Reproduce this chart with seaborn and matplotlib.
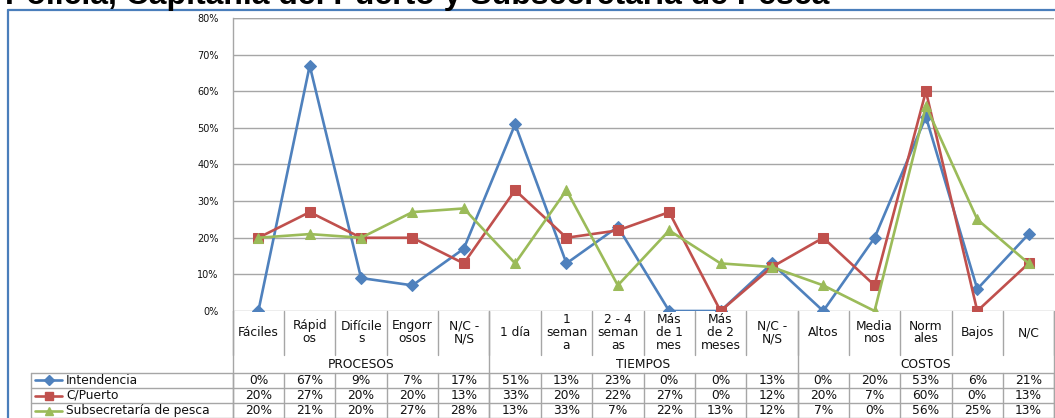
import matplotlib
matplotlib.use("Agg")
import matplotlib.pyplot as plt
import matplotlib.transforms as mtransforms
from matplotlib.lines import Line2D
import seaborn as sns
import pandas as pd

# ---- data -------------------------------------------------------------
categories = ["Fáciles", "Rápid\nos", "Difícile\ns", "Engorr\nosos", "N/C -\nN/S",
              "1 día", "1\nseman\na", "2 - 4\nseman\nas", "Más\nde 1\nmes", "Más\nde 2\nmeses",
              "N/C -\nN/S", "Altos", "Media\nnos", "Norm\nales", "Bajos", "N/C"]
groups = ["PROCESOS", "TIEMPOS", "COSTOS"]
group_sizes = [5, 6, 5]

series_names = ["Intendencia", "C/Puerto", "Subsecretaría de pesca"]
intendencia = [0, 67, 9, 7, 17, 51, 13, 23, 0, 0, 13, 0, 20, 53, 6, 21]
c_puerto = [20, 27, 20, 20, 13, 33, 20, 22, 27, 0, 12, 20, 7, 60, 0, 13]
subsecretaria = [20, 21, 20, 27, 28, 13, 33, 7, 22, 13, 12, 7, 0, 56, 25, 13]
y_ticks = [0, 10, 20, 30, 40, 50, 60, 70, 80]
title = "Policía, Capitanía del Puerto y Subsecretaría de Pesca"

colors = ["#4F81BD", "#C0504D", "#9BBB59"]
markers = ["D", "s", "^"]
marker_sizes = [6.0, 7.5, 7.5]

# ---- figure -----------------------------------------------------------
sns.set_theme(style="white")
plt.rcParams["font.family"] = ["DejaVu Sans"]

W, H = 1055, 418
fig = plt.figure(figsize=(W / 100, H / 100), dpi=100)

# plot area in pixels
px_left, px_right, px_top, px_bottom = 232.7, 1054.3, 18, 311
ax = fig.add_axes([px_left / W, (H - px_bottom) / H,
                   (px_right - px_left) / W, (px_bottom - px_top) / H])

n = len(categories)
x = list(range(n))
frame = pd.DataFrame({"idx": x * 3,
                      "valor": [v / 100 for v in intendencia + c_puerto + subsecretaria],
                      "serie": sum([[s] * n for s in series_names], [])})

for name, col, mk, ms in zip(series_names, colors, markers, marker_sizes):
    sub = frame[frame["serie"] == name]
    sns.lineplot(data=sub, x="idx", y="valor", color=col, marker=mk,
                 markersize=ms, markeredgecolor=col, markerfacecolor=col,
                 linewidth=1.9, ax=ax, legend=False, zorder=3)

ax.set_xlim(-0.5, n - 0.5)
ax.set_ylim(0, 0.8)
ax.set_yticks([t / 100 for t in y_ticks])
ax.set_yticklabels([f"{t}%" for t in y_ticks], fontsize=7, color="#111111")
ax.tick_params(axis="y", length=0, pad=10)
ax.set_xticks([])
ax.set_xlabel("")
ax.set_ylabel("")
grid_col = "#A6A6A6"
ax.grid(axis="y", color=grid_col, linewidth=1.0)
ax.set_axisbelow(True)
for side in ["top", "right", "bottom"]:
    ax.spines[side].set_visible(False)
ax.spines["left"].set_color(grid_col)
ax.spines["left"].set_linewidth(1.0)
ax.axhline(0.8, color=grid_col, linewidth=1.0, zorder=1)

# ---- category / data table below the plot ------------------------------
span = px_bottom - px_top


def ay(ypx):
    """Pixel row (from top) -> axes y coordinate."""
    return (px_bottom - ypx) / span


trans = mtransforms.blended_transform_factory(ax.transData, ax.transAxes)
tfont = dict(fontsize=8.8, color="#111111")


def vline(xd, y0, y1):
    ax.add_line(Line2D([xd, xd], [ay(y0), ay(y1)], transform=trans,
                       color=grid_col, linewidth=1.0, clip_on=False))


# category labels and dividers
for i, lab in enumerate(categories):
    ax.text(i, ay(332.5), lab, transform=trans, ha="center", va="center",
            linespacing=1.0, clip_on=False, **tfont)
for b in range(n + 1):
    vline(b - 0.5, px_bottom, 355)

# group labels and separators
start = 0
for g, size in zip(groups, group_sizes):
    ax.text(start + (size - 1) / 2, ay(364.5), g, transform=trans,
            ha="center", va="center", clip_on=False, **tfont)
    start += size
    vline(start - 0.5, px_bottom, 418)
vline(-0.5, px_bottom, 418)

# data rows
row_lines = [372.5, 388, 403, 418]
row_centers = [380, 395.5, 410.5]
for r in row_lines:
    ax.add_line(Line2D([-0.5, n - 0.5], [ay(r), ay(r)], transform=trans,
                       color=grid_col, linewidth=1.0, clip_on=False))
for b in range(n + 1):
    vline(b - 0.5, row_lines[0], row_lines[-1])

for vals, yc in zip([intendencia, c_puerto, subsecretaria], row_centers):
    for i, v in enumerate(vals):
        ax.text(i, ay(yc), f"{v}%", transform=trans, ha="center", va="center",
                clip_on=False, **tfont)

# legend column of the table (figure pixel coordinates)
def fx(xpx):
    return xpx / W


def fy(ypx):
    return (H - ypx) / H


leg_left = 31
for r in row_lines:
    fig.add_artist(Line2D([fx(leg_left), fx(px_left)], [fy(r), fy(r)],
                          color=grid_col, linewidth=1.0))
fig.add_artist(Line2D([fx(leg_left), fx(leg_left)], [fy(row_lines[0]), fy(row_lines[-1])],
                      color=grid_col, linewidth=1.0))
for name, col, mk, ms, yc in zip(series_names, colors, markers, marker_sizes, row_centers):
    fig.add_artist(Line2D([fx(35), fx(62)], [fy(yc), fy(yc)], color=col, linewidth=1.9))
    fig.add_artist(Line2D([fx(48.5)], [fy(yc)], color=col, marker=mk,
                          markersize=ms * 0.85, markeredgecolor=col, linestyle="none"))
    fig.text(fx(66), fy(yc), name, ha="left", va="center", **tfont)

# outer frame and title
frame_col = "#4A7EBB"
fig.add_artist(Line2D([fx(8), 1.0], [fy(10), fy(10)], color=frame_col, linewidth=1.6))
fig.add_artist(Line2D([fx(8), fx(8)], [0, fy(10)], color=frame_col, linewidth=1.6))
fig.text(fx(5), fy(4.0), title, ha="left", va="baseline", fontsize=23,
         fontweight="bold", family="Liberation Sans", color="black")

fig.savefig("out.png", dpi=100)
